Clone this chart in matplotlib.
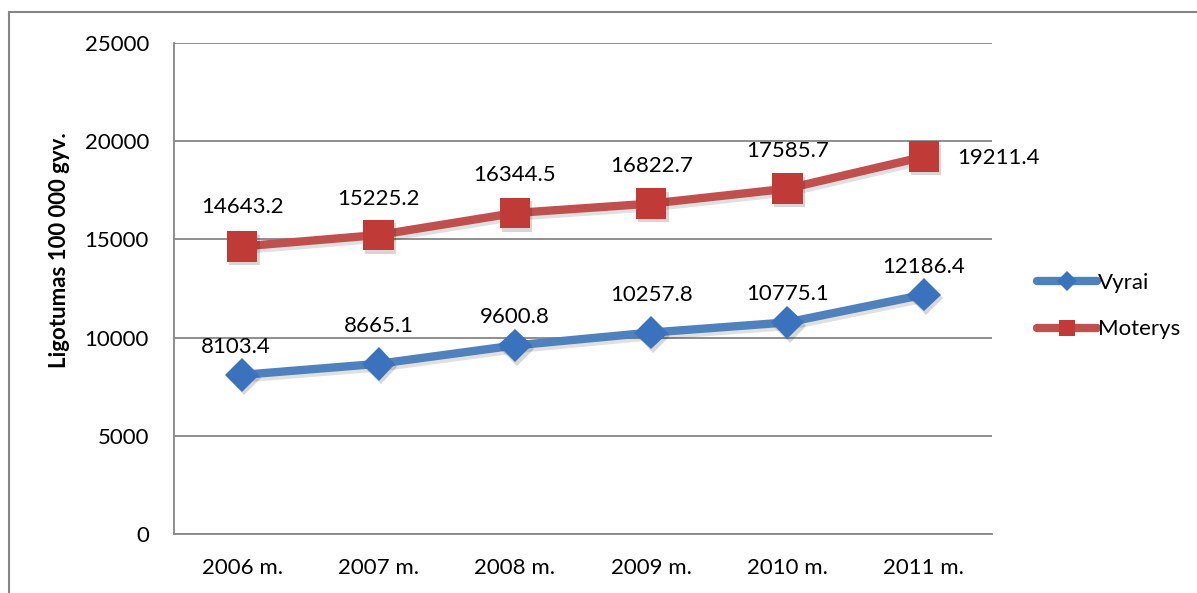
import matplotlib.pyplot as plt
import matplotlib.patheffects as pe
from matplotlib.lines import Line2D
from matplotlib.patches import Rectangle

# data
years = ['2006 m.', '2007 m.', '2008 m.', '2009 m.', '2010 m.', '2011 m.']
vyrai = [8103.4, 8665.1, 9600.8, 10257.8, 10775.1, 12186.4]
moterys = [14643.2, 15225.2, 16344.5, 16822.7, 17585.7, 19211.4]
y_ticks = [0, 5000, 10000, 15000, 20000, 25000]

# label offsets in pixels (dx, dy), as Excel placed them
vyrai_offsets = [(-6, 28), (0, 38), (0, 28), (0, 38), (0, 28), (0, 28)]
moterys_offsets = [(0, 39), (0, 36), (0, 38), (0, 38), (0, 38), (75, -1)]

BLUE = '#4F81BD'
BLUE_MK = '#3B72BD'
RED = '#C0504D'
RED_MK = '#C03A37'
GRID = '#868686'
FS = 16

plt.rcParams['font.family'] = ['Lato', 'DejaVu Sans']

W, H = 1197, 593
fig = plt.figure(figsize=(W / 100, H / 100), dpi=100)
ax = fig.add_axes([174 / W, 1 - 534 / H, (992 - 174) / W, (534 - 43) / H])

# outer frame of the chart object
fig.patches.append(Rectangle((9 / W, -0.1), 1.2, 1 - 12 / H + 0.1,
                             transform=fig.transFigure, fill=False,
                             edgecolor=GRID, linewidth=1.5))

x = list(range(len(years)))
line_fx = [pe.SimpleLineShadow(offset=(1.5, -2.5), alpha=0.12, shadow_color='black'), pe.Normal()]
mark_fx = [pe.SimplePatchShadow(offset=(1.5, -2.5), alpha=0.18), pe.Normal()]

for vals, col, mcol, mk, ms in [(vyrai, BLUE, BLUE_MK, 'D', 17),
                                (moterys, RED, RED_MK, 's', 22)]:
    ax.plot(x, vals, color=col, linewidth=6, solid_capstyle='round',
            path_effects=line_fx, zorder=3)
    ax.plot(x, vals, linestyle='none', marker=mk, markersize=ms,
            markerfacecolor=mcol, markeredgecolor=mcol, markeredgewidth=0,
            path_effects=mark_fx, zorder=4)

for vals, offs in [(vyrai, vyrai_offsets), (moterys, moterys_offsets)]:
    for xi, v, (dx, dy) in zip(x, vals, offs):
        ax.annotate(f'{v:.1f}', (xi, v), xytext=(dx * 0.72, dy * 0.72),
                    textcoords='offset points', ha='center', va='center',
                    fontsize=FS, color='black')

ax.set_xlim(-0.5, 5.5)
ax.set_ylim(0, 25000)
ax.set_yticks(y_ticks)
ax.set_xticks(x)
ax.set_xticklabels(years)
ax.tick_params(axis='both', length=0, labelsize=FS, colors='black')
ax.tick_params(axis='y', pad=18)
ax.tick_params(axis='x', pad=17)
ax.grid(axis='y', color=GRID, linewidth=1.3)
ax.set_axisbelow(True)
for s in ['top', 'right']:
    ax.spines[s].set_visible(False)
for s in ['left', 'bottom']:
    ax.spines[s].set_color(GRID)
    ax.spines[s].set_linewidth(1.3)

fig.text(60 / W, 1 - 250 / H, 'Ligotumas 100 000 gyv.', rotation=90,
         ha='center', va='center', fontsize=FS, fontweight='bold')

handles = [Line2D([], [], color=BLUE, linewidth=6, marker='D', markersize=10,
                  markerfacecolor=BLUE_MK, markeredgewidth=0, solid_capstyle='round'),
           Line2D([], [], color=RED, linewidth=6, marker='s', markersize=12,
                  markerfacecolor=RED_MK, markeredgewidth=0, solid_capstyle='round')]
fig.legend(handles, ['Vyrai', 'Moterys'], loc='center left',
           bbox_to_anchor=(1028 / W, 1 - 306 / H), frameon=False,
           fontsize=FS, handlelength=2.7, handletextpad=0.05,
           labelspacing=1.2, borderaxespad=0)

fig.savefig('out.png', dpi=100)
